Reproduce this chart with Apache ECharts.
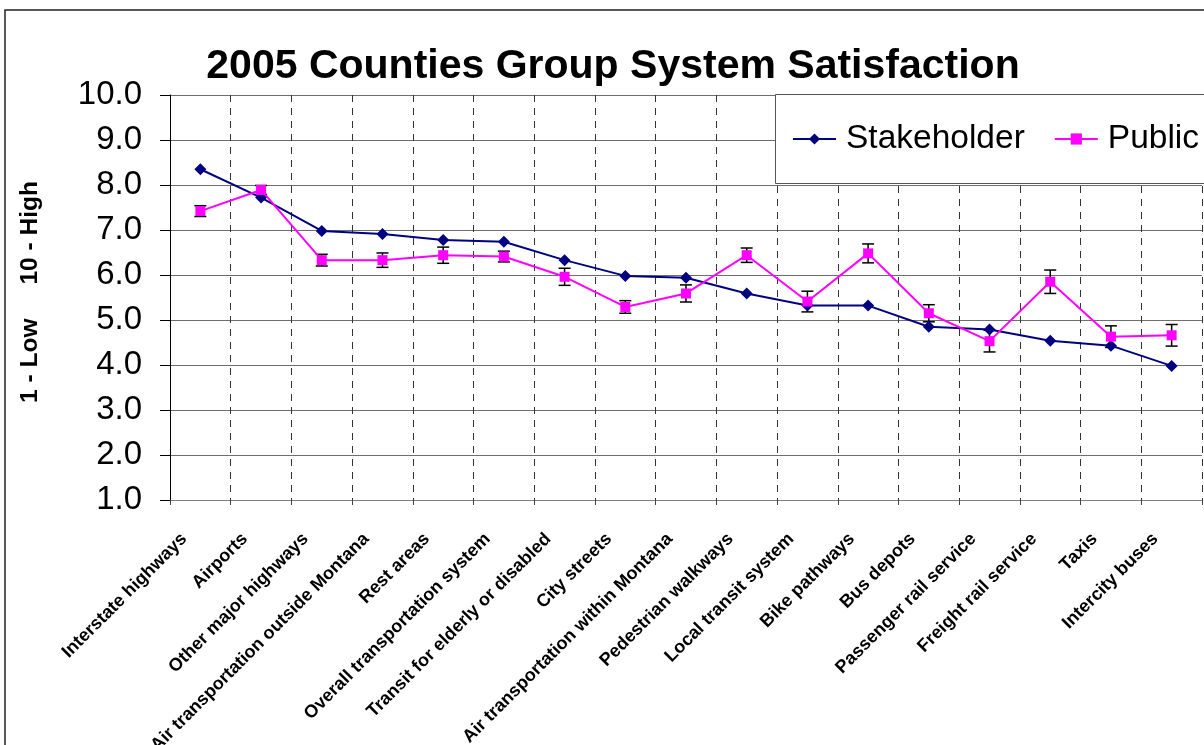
<!DOCTYPE html>
<html>
<head>
<meta charset="utf-8">
<script src="https://cdn.jsdelivr.net/npm/echarts@6/dist/echarts.min.js"></script>
<style>
  html, body { margin: 0; padding: 0; background: #fff; }
  #chart { width: 1204px; height: 745px; }
</style>
</head>
<body>
<div id="chart"></div>
<script>
// Transportation system components rated on a 1-10 scale
const categories = [
  'Interstate highways', 'Airports', 'Other major highways',
  'Air transportation outside Montana', 'Rest areas',
  'Overall transportation system', 'Transit for elderly or disabled',
  'City streets', 'Air transportation within Montana', 'Pedestrian walkways',
  'Local transit system', 'Bike pathways', 'Bus depots',
  'Passenger rail service', 'Freight rail service', 'Taxis', 'Intercity buses'
];

// Mean satisfaction scores
const stakeholder = [8.35, 7.72, 6.98, 6.91, 6.78, 6.74, 6.33, 5.98, 5.94, 5.59, 5.32, 5.32, 4.85, 4.79, 4.54, 4.43, 3.98];
const publicScores = [7.42, 7.89, 6.33, 6.33, 6.44, 6.41, 5.96, 5.29, 5.59, 6.44, 5.41, 6.48, 5.15, 4.53, 5.85, 4.63, 4.66];
// Half-width of the error bar on each public score
const publicErr = [0.12, 0.10, 0.13, 0.16, 0.18, 0.12, 0.19, 0.14, 0.19, 0.16, 0.23, 0.21, 0.19, 0.24, 0.26, 0.24, 0.24];

const yTicks = { min: 1, max: 10, step: 1 };

const errData = publicScores.map((v, i) => [i, v - publicErr[i], v + publicErr[i]]);

const chart = echarts.init(document.getElementById('chart'), null, { renderer: 'canvas' });

const baseFont = 'Liberation Sans, Arial, Helvetica, sans-serif';

chart.setOption({
  animation: false,
  backgroundColor: '#ffffff',
  textStyle: { fontFamily: baseFont },
  title: {
    text: '2005 Counties Group System Satisfaction',
    left: 608,
    top: 41,
    textAlign: 'center',
    textStyle: { fontSize: 41, fontWeight: 'bold', color: '#000', fontFamily: baseFont }
  },
  graphic: [
    {
      type: 'rect',
      z: 0,
      shape: { x: 5, y: 10, width: 1400, height: 900 },
      style: { fill: null, stroke: '#222', lineWidth: 1.5 },
      silent: true
    },
    {
      type: 'rect',
      z: 3,
      shape: { x: 775.5, y: 94.5, width: 600, height: 89 },
      style: { fill: '#fff', stroke: '#555', lineWidth: 1 },
      silent: true
    },
    {
      type: 'text',
      x: 30,
      y: 292,
      rotation: Math.PI / 2,
      style: {
        text: '1 - Low     10 - High',
        fontSize: 24.5,
        fontWeight: 'bold',
        fontFamily: baseFont,
        fill: '#000',
        align: 'center',
        verticalAlign: 'middle'
      }
    }
  ],
  legend: {
    data: ['Stakeholder', 'Public'],
    left: 775,
    top: 122,
    z: 5,
    padding: [0, 0, 0, 17],
    itemWidth: 43,
    itemHeight: 14,
    itemGap: 29,
    textStyle: { fontSize: 33.5, color: '#000', fontFamily: baseFont, lineHeight: 34, padding: [0, 0, 0, 5] }
  },
  grid: { left: 170, top: 95, right: 2, bottom: 245, containLabel: false, outerBoundsMode: 'none' },
  xAxis: {
    type: 'category',
    data: categories,
    boundaryGap: true,
    axisLine: { show: true, lineStyle: { color: '#808080', width: 1 } },
    axisTick: { show: true, alignWithLabel: false, length: 5, lineStyle: { color: '#444' } },
    splitLine: { show: true, lineStyle: { color: '#333', type: [7, 6], width: 1 } },
    axisLabel: {
      interval: 0,
      rotate: 45,
      margin: 20,
      padding: [0, 23, 0, 0],
      fontSize: 18,
      fontWeight: 'bold',
      color: '#000',
      fontFamily: baseFont
    }
  },
  yAxis: {
    type: 'value',
    min: yTicks.min,
    max: yTicks.max,
    interval: yTicks.step,
    axisLine: { show: true, lineStyle: { color: '#000', width: 1 } },
    axisTick: { show: true, length: 10, lineStyle: { color: '#000' } },
    splitLine: { show: true, lineStyle: { color: '#6e6e6e', width: 1 } },
    axisLabel: {
      margin: 28,
      fontSize: 33,
      color: '#000',
      fontFamily: baseFont,
      formatter: v => v.toFixed(1)
    }
  },
  series: [
    {
      name: 'Public error',
      type: 'custom',
      z: 2,
      data: errData,
      renderItem: function (params, api) {
        const i = api.value(0);
        const lo = api.coord([i, api.value(1)]);
        const hi = api.coord([i, api.value(2)]);
        const w = 6;
        const st = { stroke: '#000', lineWidth: 1.5 };
        return {
          type: 'group',
          children: [
            { type: 'line', shape: { x1: lo[0], y1: lo[1], x2: hi[0], y2: hi[1] }, style: st },
            { type: 'line', shape: { x1: lo[0] - w, y1: lo[1], x2: lo[0] + w, y2: lo[1] }, style: st },
            { type: 'line', shape: { x1: hi[0] - w, y1: hi[1], x2: hi[0] + w, y2: hi[1] }, style: st }
          ]
        };
      }
    },
    {
      name: 'Stakeholder',
      type: 'line',
      z: 3,
      data: stakeholder,
      symbol: 'diamond',
      symbolSize: 12,
      itemStyle: { color: '#000080' },
      lineStyle: { color: '#000080', width: 2 }
    },
    {
      name: 'Public',
      type: 'line',
      z: 4,
      data: publicScores,
      symbol: 'rect',
      symbolSize: 10,
      itemStyle: { color: '#ff00ff' },
      lineStyle: { color: '#ff00ff', width: 2 }
    }
  ]
});
</script>
</body>
</html>
